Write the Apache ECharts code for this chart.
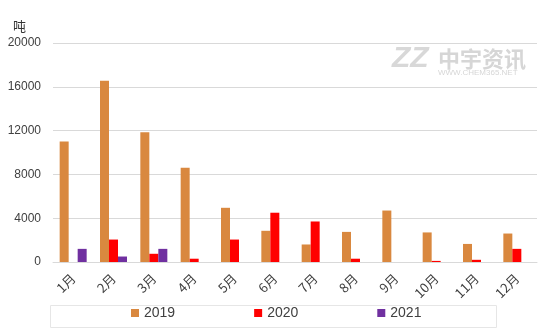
<!DOCTYPE html>
<html><head><meta charset="utf-8">
<script src="https://cdn.jsdelivr.net/npm/echarts@6/dist/echarts.min.js"></script>
<style>html,body{margin:0;padding:0;background:#fff}#c{width:554px;height:335px}</style>
</head><body><div id="c"></div>
<script>
const categories = ['1月','2月','3月','4月','5月','6月','7月','8月','9月','10月','11月','12月'];
const s2019 = [11000,16550,11850,8600,4950,2850,1600,2750,4700,2700,1650,2600];
const s2020 = [0,2050,750,300,2050,4500,3700,300,0,100,200,1200];
const s2021 = [1200,500,1200,null,null,null,null,null,null,null,null,null];
const yTicks = [0,4000,8000,12000,16000,20000];
const seriesNames = ['2019','2020','2021'];
const colors = ['#D9883F','#FF0000','#7030A0'];
const unit = '吨';

const chart = echarts.init(document.getElementById('c'));
const font = '"Noto Sans CJK SC","Liberation Sans",sans-serif';
const mk = (name, data, color) => ({
  name, type:'bar', data, barWidth:9, barGap:'0%',
  itemStyle:{color}, emphasis:{disabled:true}
});
chart.setOption({
  animation:false,
  textStyle:{fontFamily:font},
  grid:{left:53,right:17,top:43,bottom:73},
  xAxis:{type:'category',data:categories,
    axisLine:{lineStyle:{color:'#d9d9d9'}},axisTick:{show:false},
    axisLabel:{rotate:45,color:'#404040',fontSize:13,margin:14,interval:0,fontFamily:font}},
  yAxis:{type:'value',min:yTicks[0],max:yTicks[yTicks.length-1],interval:4000,
    axisLine:{show:false},axisTick:{show:false},
    splitLine:{lineStyle:{color:'#d9d9d9'}},
    axisLabel:{color:'#404040',fontSize:12,margin:12,formatter:v=>String(v),fontFamily:'"Liberation Sans",sans-serif'}},
  legend:{data:seriesNames,left:131,top:306,padding:0,itemWidth:8,itemHeight:8,itemGap:79,
    icon:'rect',textStyle:{color:'#404040',fontSize:14,fontFamily:'"Liberation Sans",sans-serif'}},
  graphic:[
    {type:'rect',left:48,top:303,shape:{width:446,height:22},
      style:{fill:'none',stroke:'#e6e6e6',lineWidth:1},z:-1},
    {type:'text',left:13,top:20,style:{text:unit,fontSize:13,fill:'#333',fontFamily:font}},
    {type:'text',left:392,top:44,style:{text:'ZZ',fontSize:30,fontWeight:'bold',fontStyle:'italic',fill:'#d8d8d8',fontFamily:'"Liberation Sans",sans-serif'}},
    {type:'text',left:438,top:48,style:{text:'中宇资讯',fontSize:22,fontWeight:'bold',fill:'#d6d6d6',fontFamily:font}},
    {type:'text',left:438,top:69,style:{text:'WWW.CHEM365.NET',fontSize:8,fill:'#d6d6d6',fontFamily:'"Liberation Sans",sans-serif'}}
  ],
  series:[mk(seriesNames[0],s2019,colors[0]),mk(seriesNames[1],s2020,colors[1]),mk(seriesNames[2],s2021,colors[2])]
});
</script></body></html>
